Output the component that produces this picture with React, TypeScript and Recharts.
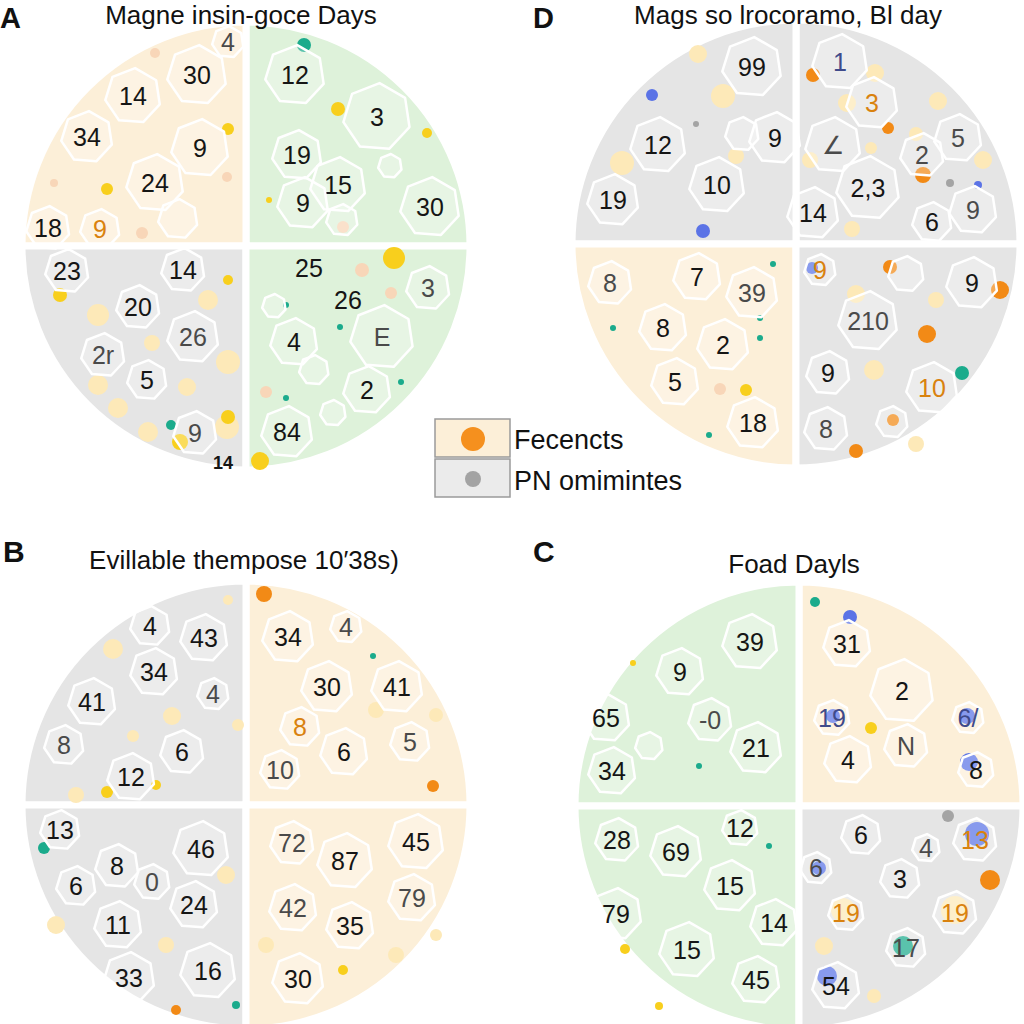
import React from "react";
import { PieChart, Pie, Cell, ScatterChart, Scatter, XAxis, YAxis } from "recharts";

// quadrant order: top-right, top-left, bottom-left, bottom-right
const quadsA = ["green", "beige", "gray", "green"];
const quadsD = ["gray", "gray", "beige", "gray"];
const quadsB = ["beige", "gray", "gray", "beige"];
const quadsC = ["beige", "green", "green", "gray"];
const quadShare = [1, 1, 1, 1];

// numbered cells: x/y offset from circle centre, z = cell size, k = tone
const cellsA = [
  { x: -49, y: -171, z: 30, label: "30", k: "n" },
  { x: -113, y: -150, z: 28, label: "14", k: "n" },
  { x: -159, y: -109, z: 26, label: "34", k: "n" },
  { x: -46, y: -98, z: 29, label: "9", k: "n" },
  { x: -91, y: -63, z: 29, label: "24", k: "n" },
  { x: -198, y: -18, z: 22, label: "18", k: "n" },
  { x: -146, y: -17, z: 20, label: "9", k: "o" },
  { x: -18, y: -204, z: 16, label: "4", k: "m" },
  { x: -68, y: -27, z: 20, label: "", k: "n" },
  { x: 49, y: -171, z: 30, label: "12", k: "n" },
  { x: 131, y: -129, z: 34, label: "3", k: "n" },
  { x: 51, y: -91, z: 25, label: "19", k: "n" },
  { x: 92, y: -61, z: 28, label: "15", k: "n" },
  { x: 57, y: -43, z: 26, label: "9", k: "n" },
  { x: 184, y: -39, z: 30, label: "30", k: "n" },
  { x: 144, y: -80, z: 12, label: "", k: "n" },
  { x: 96, y: -26, z: 16, label: "", k: "n" },
  { x: -179, y: 25, z: 22, label: "23", k: "n" },
  { x: -63, y: 24, z: 22, label: "14", k: "n" },
  { x: -108, y: 61, z: 22, label: "20", k: "n" },
  { x: -143, y: 109, z: 22, label: "2r", k: "m" },
  { x: -53, y: 91, z: 26, label: "26", k: "m" },
  { x: -99, y: 134, z: 20, label: "5", k: "n" },
  { x: -51, y: 187, z: 22, label: "9", k: "m" },
  { x: -23, y: 217, z: 0, label: "14", k: "s" },
  { x: 63, y: 22, z: 0, label: "25", k: "n" },
  { x: 102, y: 54, z: 0, label: "26", k: "n" },
  { x: 182, y: 42, z: 22, label: "3", k: "m" },
  { x: 136, y: 91, z: 32, label: "E", k: "m" },
  { x: 48, y: 96, z: 24, label: "4", k: "n" },
  { x: 121, y: 144, z: 24, label: "2", k: "n" },
  { x: 41, y: 186, z: 26, label: "84", k: "n" },
  { x: 68, y: 124, z: 15, label: "", k: "n" },
  { x: 87, y: 167, z: 13, label: "", k: "n" },
  { x: 28, y: 60, z: 12, label: "", k: "n" },
];

const dotsA = [
  { x: -18, y: -117, z: 6, k: "y" },
  { x: -139, y: -57, z: 6, k: "y" },
  { x: -91, y: -193, z: 5, k: "pk" },
  { x: -19, y: -69, z: 5, k: "pk" },
  { x: -192, y: -63, z: 4, k: "pk" },
  { x: -104, y: -13, z: 6, k: "pk" },
  { x: 58, y: -201, z: 7, k: "t" },
  { x: 92, y: -137, z: 7, k: "y" },
  { x: 181, y: -113, z: 5, k: "y" },
  { x: 23, y: -46, z: 3, k: "y" },
  { x: 97, y: -19, z: 6, k: "pk" },
  { x: -148, y: 69, z: 11, k: "p" },
  { x: -38, y: 54, z: 10, k: "p" },
  { x: -94, y: 97, z: 8, k: "p" },
  { x: -148, y: 139, z: 10, k: "p" },
  { x: -59, y: 141, z: 9, k: "p" },
  { x: -128, y: 162, z: 10, k: "p" },
  { x: -98, y: 186, z: 10, k: "p" },
  { x: -18, y: 116, z: 12, k: "p" },
  { x: -19, y: 181, z: 12, k: "p" },
  { x: -186, y: 49, z: 7, k: "y" },
  { x: -18, y: 34, z: 5, k: "y" },
  { x: -18, y: 171, z: 7, k: "y" },
  { x: -75, y: 179, z: 5, k: "t" },
  { x: -66, y: 196, z: 8, k: "y" },
  { x: 148, y: 12, z: 11, k: "y" },
  { x: 14, y: 215, z: 9, k: "y" },
  { x: 116, y: 24, z: 7, k: "pk" },
  { x: 145, y: 47, z: 6, k: "pk" },
  { x: 20, y: 146, z: 6, k: "pk" },
  { x: 94, y: 81, z: 3, k: "t" },
  { x: 155, y: 136, z: 3, k: "t" },
  { x: 40, y: 59, z: 3, k: "t" },
  { x: 40, y: 152, z: 3, k: "t" },
];

const cellsD = [
  { x: -44, y: -177, z: 30, label: "99", k: "n" },
  { x: -138, y: -99, z: 28, label: "12", k: "n" },
  { x: -21, y: -106, z: 26, label: "9", k: "n" },
  { x: -79, y: -59, z: 28, label: "10", k: "n" },
  { x: -183, y: -44, z: 26, label: "19", k: "n" },
  { x: -54, y: -110, z: 17, label: "", k: "n" },
  { x: 44, y: -182, z: 28, label: "1", k: "b" },
  { x: 76, y: -141, z: 26, label: "3", k: "o" },
  { x: 37, y: -99, z: 28, label: "∠", k: "m" },
  { x: 126, y: -89, z: 22, label: "2", k: "m" },
  { x: 162, y: -106, z: 24, label: "5", k: "m" },
  { x: 72, y: -56, z: 32, label: "2,3", k: "n" },
  { x: 17, y: -31, z: 26, label: "14", k: "n" },
  { x: 136, y: -22, z: 20, label: "6", k: "n" },
  { x: 177, y: -34, z: 24, label: "9", k: "m" },
  { x: -186, y: 39, z: 22, label: "8", k: "m" },
  { x: -99, y: 33, z: 24, label: "7", k: "n" },
  { x: -44, y: 49, z: 26, label: "39", k: "m" },
  { x: -133, y: 84, z: 24, label: "8", k: "n" },
  { x: -73, y: 101, z: 26, label: "2", k: "n" },
  { x: -121, y: 138, z: 24, label: "5", k: "n" },
  { x: -43, y: 179, z: 26, label: "18", k: "n" },
  { x: 24, y: 26, z: 16, label: "9", k: "o" },
  { x: 176, y: 39, z: 26, label: "9", k: "n" },
  { x: 72, y: 77, z: 30, label: "210", k: "m" },
  { x: 32, y: 129, z: 22, label: "9", k: "n" },
  { x: 136, y: 144, z: 26, label: "10", k: "o" },
  { x: 30, y: 185, z: 22, label: "8", k: "m" },
  { x: 110, y: 30, z: 18, label: "", k: "n" },
  { x: 96, y: 178, z: 16, label: "", k: "n" },
];

const dotsD = [
  { x: -144, y: -149, z: 6, k: "b" },
  { x: -93, y: -13, z: 7, k: "b" },
  { x: -73, y: -148, z: 12, k: "p" },
  { x: -174, y: -81, z: 12, k: "p" },
  { x: -98, y: -190, z: 9, k: "p" },
  { x: -100, y: -120, z: 3, k: "g" },
  { x: -60, y: -88, z: 8, k: "p" },
  { x: 17, y: -169, z: 7, k: "o" },
  { x: 127, y: -69, z: 8, k: "o" },
  { x: 92, y: -116, z: 6, k: "o" },
  { x: 154, y: -61, z: 4, k: "g" },
  { x: 182, y: -59, z: 4, k: "b" },
  { x: 79, y: -171, z: 9, k: "p" },
  { x: 51, y: -141, z: 9, k: "p" },
  { x: 142, y: -143, z: 9, k: "p" },
  { x: 75, y: -96, z: 6, k: "p" },
  { x: 14, y: -84, z: 8, k: "p" },
  { x: 187, y: -84, z: 9, k: "p" },
  { x: 56, y: -15, z: 8, k: "p" },
  { x: 120, y: -110, z: 7, k: "p" },
  { x: -50, y: 146, z: 6, k: "y" },
  { x: -183, y: 84, z: 3, k: "t" },
  { x: -36, y: 74, z: 3, k: "t" },
  { x: -36, y: 94, z: 3, k: "t" },
  { x: -87, y: 191, z: 3, k: "t" },
  { x: -23, y: 20, z: 3, k: "t" },
  { x: -76, y: 145, z: 6, k: "pk" },
  { x: 94, y: 23, z: 7, k: "o" },
  { x: 204, y: 46, z: 9, k: "o" },
  { x: 131, y: 90, z: 9, k: "o" },
  { x: 166, y: 129, z: 7, k: "t" },
  { x: 60, y: 207, z: 7, k: "o" },
  { x: 97, y: 176, z: 6, k: "o" },
  { x: 16, y: 24, z: 6, k: "b" },
  { x: 78, y: 126, z: 10, k: "p" },
  { x: 60, y: 50, z: 9, k: "p" },
  { x: 140, y: 56, z: 8, k: "p" },
  { x: 120, y: 200, z: 8, k: "p" },
];

const cellsB = [
  { x: -96, y: -179, z: 20, label: "4", k: "n" },
  { x: -42, y: -167, z: 24, label: "43", k: "n" },
  { x: -92, y: -133, z: 24, label: "34", k: "n" },
  { x: -154, y: -103, z: 24, label: "41", k: "n" },
  { x: -33, y: -111, z: 16, label: "4", k: "m" },
  { x: -182, y: -60, z: 20, label: "8", k: "m" },
  { x: -64, y: -53, z: 22, label: "6", k: "n" },
  { x: -115, y: -28, z: 24, label: "12", k: "n" },
  { x: 42, y: -168, z: 26, label: "34", k: "n" },
  { x: 100, y: -178, z: 16, label: "4", k: "m" },
  { x: 81, y: -118, z: 26, label: "30", k: "n" },
  { x: 151, y: -118, z: 26, label: "41", k: "n" },
  { x: 54, y: -78, z: 20, label: "8", k: "o" },
  { x: 98, y: -53, z: 24, label: "6", k: "n" },
  { x: 34, y: -35, z: 20, label: "10", k: "m" },
  { x: 164, y: -63, z: 20, label: "5", k: "m" },
  { x: -186, y: 25, z: 20, label: "13", k: "n" },
  { x: -129, y: 61, z: 22, label: "8", k: "n" },
  { x: -45, y: 44, z: 28, label: "46", k: "n" },
  { x: -170, y: 81, z: 20, label: "6", k: "n" },
  { x: -94, y: 77, z: 18, label: "0", k: "m" },
  { x: -52, y: 100, z: 24, label: "24", k: "n" },
  { x: -128, y: 120, z: 24, label: "11", k: "n" },
  { x: -117, y: 173, z: 26, label: "33", k: "n" },
  { x: -38, y: 166, z: 28, label: "16", k: "n" },
  { x: 46, y: 38, z: 22, label: "72", k: "m" },
  { x: 99, y: 56, z: 28, label: "87", k: "n" },
  { x: 170, y: 37, z: 28, label: "45", k: "n" },
  { x: 47, y: 103, z: 24, label: "42", k: "m" },
  { x: 166, y: 93, z: 24, label: "79", k: "m" },
  { x: 104, y: 121, z: 24, label: "35", k: "n" },
  { x: 52, y: 174, z: 26, label: "30", k: "n" },
];

const dotsB = [
  { x: 18, y: -211, z: 8, k: "o" },
  { x: 187, y: -19, z: 6, k: "o" },
  { x: -139, y: -13, z: 6, k: "y" },
  { x: -202, y: 43, z: 6, k: "t" },
  { x: 97, y: 165, z: 5, k: "y" },
  { x: -133, y: -156, z: 10, k: "p" },
  { x: -74, y: -89, z: 9, k: "p" },
  { x: -113, y: -69, z: 6, k: "p" },
  { x: -8, y: -80, z: 6, k: "p" },
  { x: -18, y: -205, z: 5, k: "p" },
  { x: -170, y: -10, z: 8, k: "p" },
  { x: -90, y: -20, z: 5, k: "y" },
  { x: -190, y: 120, z: 9, k: "p" },
  { x: -80, y: 140, z: 8, k: "p" },
  { x: -70, y: 205, z: 5, k: "o" },
  { x: -10, y: 200, z: 4, k: "t" },
  { x: -20, y: 70, z: 9, k: "p" },
  { x: 127, y: -149, z: 3, k: "t" },
  { x: 130, y: -95, z: 8, k: "p" },
  { x: 190, y: -90, z: 7, k: "p" },
  { x: 20, y: 140, z: 8, k: "p" },
  { x: 150, y: 150, z: 8, k: "p" },
  { x: 190, y: 130, z: 6, k: "p" },
];

const cellsC = [
  { x: -49, y: -164, z: 28, label: "39", k: "n" },
  { x: -119, y: -134, z: 24, label: "9", k: "n" },
  { x: -193, y: -88, z: 24, label: "65", k: "n" },
  { x: -89, y: -86, z: 22, label: "-0", k: "m" },
  { x: -43, y: -58, z: 26, label: "21", k: "n" },
  { x: -187, y: -35, z: 24, label: "34", k: "n" },
  { x: -150, y: -60, z: 14, label: "", k: "n" },
  { x: 48, y: -162, z: 24, label: "31", k: "n" },
  { x: 103, y: -115, z: 32, label: "2", k: "n" },
  { x: 33, y: -88, z: 18, label: "19", k: "b" },
  { x: 49, y: -46, z: 24, label: "4", k: "n" },
  { x: 107, y: -60, z: 22, label: "N", k: "m" },
  { x: 169, y: -88, z: 16, label: "6/", k: "b" },
  { x: 177, y: -36, z: 18, label: "8", k: "n" },
  { x: -59, y: 22, z: 18, label: "12", k: "n" },
  { x: -182, y: 34, z: 22, label: "28", k: "n" },
  { x: -123, y: 46, z: 26, label: "69", k: "n" },
  { x: -69, y: 80, z: 26, label: "15", k: "n" },
  { x: -183, y: 108, z: 26, label: "79", k: "n" },
  { x: -25, y: 117, z: 24, label: "14", k: "n" },
  { x: -112, y: 144, z: 28, label: "15", k: "n" },
  { x: -43, y: 174, z: 24, label: "45", k: "n" },
  { x: 62, y: 29, z: 20, label: "6", k: "n" },
  { x: 127, y: 42, z: 14, label: "4", k: "m" },
  { x: 176, y: 34, z: 22, label: "13", k: "o" },
  { x: 17, y: 62, z: 16, label: "6", k: "m" },
  { x: 101, y: 73, z: 20, label: "3", k: "n" },
  { x: 47, y: 107, z: 18, label: "19", k: "o" },
  { x: 156, y: 107, z: 22, label: "19", k: "o" },
  { x: 107, y: 142, z: 20, label: "17", k: "m" },
  { x: 37, y: 180, z: 24, label: "54", k: "n" },
];

const dotsC = [
  { x: 16, y: -204, z: 5, k: "t" },
  { x: -166, y: -143, z: 3, k: "y" },
  { x: 72, y: -78, z: 6, k: "y" },
  { x: 191, y: 74, z: 10, k: "o" },
  { x: 149, y: 10, z: 6, k: "g" },
  { x: 51, y: -189, z: 7, k: "b" },
  { x: 170, y: -44, z: 9, k: "b" },
  { x: 168, y: -90, z: 8, k: "b" },
  { x: 34, y: -90, z: 7, k: "b" },
  { x: -174, y: 143, z: 5, k: "y" },
  { x: 178, y: 28, z: 12, k: "b" },
  { x: 44, y: 104, z: 12, k: "p" },
  { x: 156, y: 104, z: 14, k: "p" },
  { x: 104, y: 140, z: 10, k: "t" },
  { x: 28, y: 170, z: 10, k: "b" },
  { x: 20, y: 62, z: 7, k: "b" },
  { x: 25, y: 140, z: 9, k: "p" },
  { x: 75, y: 190, z: 7, k: "p" },
  { x: -100, y: -40, z: 3, k: "t" },
  { x: -30, y: 40, z: 3, k: "t" },
  { x: -140, y: 200, z: 4, k: "y" },
];

const quadColor: Record<string, string> = {
  beige: "#fcefd8",
  green: "#def2da",
  gray: "#e5e5e5",
};

const dotColor: Record<string, string> = {
  y: "#f8cf1d",
  o: "#f28a16",
  t: "#1bab8c",
  b: "#5b73e6",
  g: "#a4a4a4",
  p: "#fde9b8",
  pk: "#f8d6b8",
};

const textColor: Record<string, string> = {
  n: "#151515",
  m: "#4a4a4a",
  o: "#d9820f",
  b: "#3f4a8a",
  s: "#151515",
};

const FONT = "'Liberation Sans', Arial, sans-serif";
const SIZE = 460;
const HALF = SIZE / 2;

const CellShape = (props: any) => {
  const { cx, cy, payload } = props;
  const r = payload.z;
  const pts: string[] = [];
  if (r > 0) {
    for (let i = 0; i < 7; i++) {
      const a = (Math.PI * 2 * i) / 7 + 0.3;
      pts.push(`${cx + r * Math.cos(a)},${cy + r * Math.sin(a)}`);
    }
  }
  return (
    <g>
      {r > 0 && (
        <polygon
          points={pts.join(" ")}
          fill="#ffffff"
          fillOpacity={0.28}
          stroke="#ffffff"
          strokeWidth={2.5}
          strokeLinejoin="round"
        />
      )}
      {payload.label && (
        <text
          x={cx}
          y={cy}
          dy="0.36em"
          textAnchor="middle"
          fontFamily={FONT}
          fontSize={payload.k === "s" ? 18 : 25}
          fontWeight={payload.k === "s" ? 700 : 400}
          fill={textColor[payload.k]}
        >
          {payload.label}
        </text>
      )}
    </g>
  );
};

const DotShape = (props: any) => {
  const { cx, cy, payload } = props;
  return <circle cx={cx} cy={cy} r={payload.z} fill={dotColor[payload.k]} />;
};

interface PanelProps {
  cx: number;
  cy: number;
  quads: string[];
  cells: any[];
  dots: any[];
}

const Panel = ({ cx, cy, quads, cells, dots }: PanelProps) => {
  const pieData = quads.map((q, i) => ({ name: q, value: quadShare[i] }));
  const layer: React.CSSProperties = { position: "absolute", left: 0, top: 0 };
  return (
    <div style={{ position: "absolute", left: cx - HALF, top: cy - HALF, width: SIZE, height: SIZE }}>
      <div style={layer}>
        <PieChart width={SIZE} height={SIZE} margin={{ top: 0, right: 0, bottom: 0, left: 0 }}>
          <Pie
            data={pieData}
            dataKey="value"
            cx={HALF}
            cy={HALF}
            outerRadius={224}
            startAngle={0}
            endAngle={360}
            stroke="#ffffff"
            strokeWidth={7}
            isAnimationActive={false}
          >
            {pieData.map((d, i) => (
              <Cell key={i} fill={quadColor[d.name]} />
            ))}
          </Pie>
        </PieChart>
      </div>
      <div style={layer}>
        <ScatterChart width={SIZE} height={SIZE} margin={{ top: 0, right: 0, bottom: 0, left: 0 }}>
          <XAxis type="number" dataKey="x" domain={[-HALF, HALF]} hide />
          <YAxis type="number" dataKey="y" domain={[-HALF, HALF]} reversed hide />
          <Scatter data={dots} shape={DotShape} isAnimationActive={false} />
          <Scatter data={cells} shape={CellShape} isAnimationActive={false} />
        </ScatterChart>
      </div>
    </div>
  );
};

const App = () => {
  return (
    <div
      style={{
        position: "absolute",
        left: 0,
        top: 0,
        width: 1024,
        height: 1024,
        background: "#ffffff",
        overflow: "hidden",
        fontFamily: FONT,
      }}
    >
      <Panel cx={246} cy={246} quads={quadsA} cells={cellsA} dots={dotsA} />
      <Panel cx={796} cy={244} quads={quadsD} cells={cellsD} dots={dotsD} />
      <Panel cx={246} cy={805} quads={quadsB} cells={cellsB} dots={dotsB} />
      <Panel cx={799} cy={806} quads={quadsC} cells={cellsC} dots={dotsC} />
      <svg width={1024} height={1024} style={{ position: "absolute", left: 0, top: 0, pointerEvents: "none" }}>
        <g fontFamily={FONT} fill="#111">
          <text x={0} y={28} fontSize={29} fontWeight={700}>A</text>
          <text x={241} y={24} fontSize={26} textAnchor="middle">Magne insin-goce Days</text>
          <text x={533} y={28} fontSize={29} fontWeight={700}>D</text>
          <text x={788} y={24} fontSize={26} textAnchor="middle">Mags so lrocoramo, Bl day</text>
          <text x={3} y={562} fontSize={30} fontWeight={700}>B</text>
          <text x={244} y={569} fontSize={26} textAnchor="middle">Evillable thempose 10′38s)</text>
          <text x={533} y={562} fontSize={30} fontWeight={700}>C</text>
          <text x={794} y={573} fontSize={26} textAnchor="middle">Foad Dayls</text>
        </g>
        <rect x={435} y={419} width={75} height={38} fill="#fcefd8" stroke="#9a9a9a" strokeWidth={1.5} />
        <circle cx={473} cy={439} r={12} fill="#f5901e" />
        <rect x={435} y={459} width={75} height={38} fill="#ebebeb" stroke="#9a9a9a" strokeWidth={1.5} />
        <circle cx={473} cy={479} r={8} fill="#a3a3a3" />
        <text x={514} y={449} fontSize={27} fontFamily={FONT} fill="#111">Fecencts</text>
        <text x={514} y={490} fontSize={27} fontFamily={FONT} fill="#111">PN omimintes</text>
      </svg>
    </div>
  );
};

export default App;
